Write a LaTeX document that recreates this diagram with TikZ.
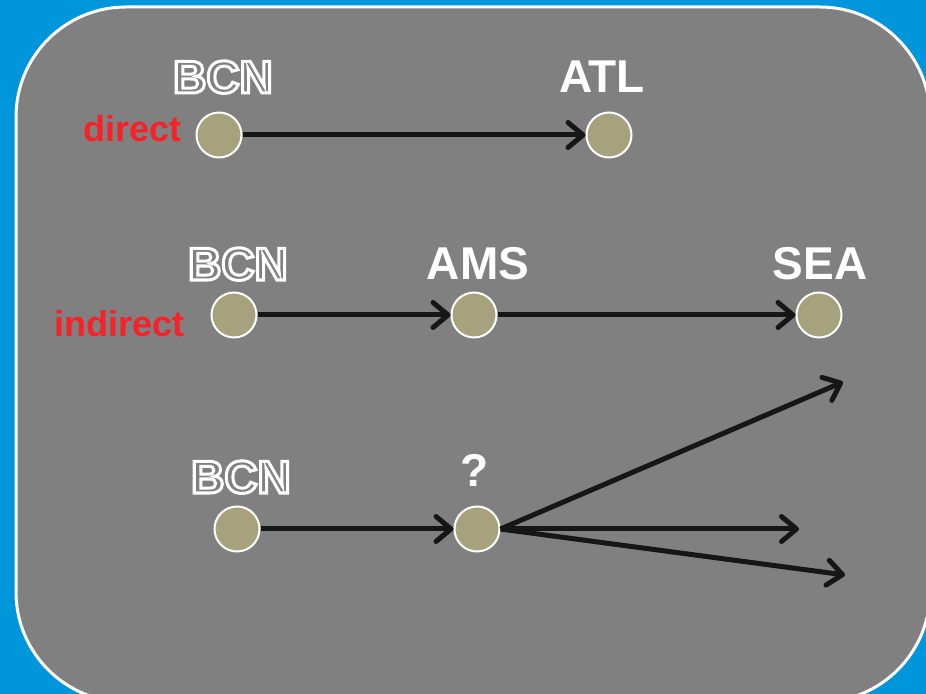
\documentclass[tikz,border=0pt]{standalone}
\usepackage{fontspec}
\setmainfont{Liberation Sans}
\usetikzlibrary{arrows.meta,positioning}
\definecolor{skyBlue}{RGB}{0,150,220}
\definecolor{panelGray}{RGB}{128,128,128}
\definecolor{stopTan}{RGB}{166,162,125}
\definecolor{tagRed}{RGB}{250,32,40}
\definecolor{routeBlack}{RGB}{22,22,22}
% hollow letters: stroke the glyph outlines only
\newcommand{\hollow}[1]{\special{pdf:literal direct q 1 Tr 1.5 w}#1\special{pdf:literal direct Q}}
\tikzset{
  airport/.style={circle,draw=white,line width=1pt,fill=stopTan,
                  minimum size=22.5pt,inner sep=0pt},
  cityName/.style={anchor=base,text=white,inner sep=0pt,font=\fontsize{23}{23}\selectfont\bfseries},
  kindTag/.style={anchor=base east,text=tagRed,inner sep=0pt,font=\fontsize{18}{18}\selectfont\bfseries},
}

\begin{document}
\begin{tikzpicture}[x=0.5pt,y=-0.5pt,
  route/.style={-{Straight Barb[length=7.5pt,width=12.5pt,round]},line width=2.5pt,draw=routeBlack}
]
  \useasboundingbox (0,0) rectangle (926,694);
  \fill[skyBlue] (0,0) rectangle (926,694);
  \draw[white,line width=1.5pt,fill=panelGray,rounded corners=55pt] (16,7) rectangle (930,702);
  % direct flight
  \node[airport](bcnA) at (219,135){};
  \node[airport](atl)  at (609,135){};
  \node[cityName](bcnAName) at (223,93){\hollow{BCN}};
  \node[cityName](atlName)  at (602,93){ATL};
  \node[kindTag](direct) at (182,142){direct};
  \draw[route](bcnA)--(atl);
  % indirect flight via AMS
  \node[airport](bcnB) at (234,315){};
  \node[airport](ams)  at (474,315){};
  \node[airport](sea)  at (819,315){};
  \node[cityName](bcnBName) at (238,280){\hollow{BCN}};
  \node[cityName](amsName)  at (478,280){AMS};
  \node[cityName](seaName)  at (820,280){SEA};
  \node[kindTag](indirect) at (185,337){indirect};
  \draw[route](bcnB)--(ams);
  \draw[route](ams)--(sea);
  % unknown hub
  \node[airport](bcnC) at (237,529){};
  \node[airport](hub)  at (477,529){};
  \node[cityName](bcnCName) at (241,493){\hollow{BCN}};
  \node[cityName](hubName)  at (475,487){?};
  \coordinate (fanUp)  at (843,382);
  \coordinate (fanMid) at (799,529);
  \coordinate (fanLow) at (845,575);
  \draw[route](bcnC)--(hub);
  \foreach \f in {fanUp,fanMid,fanLow}{
    \draw[route](hub.east)--(\f);
  }
\end{tikzpicture}
\end{document}
